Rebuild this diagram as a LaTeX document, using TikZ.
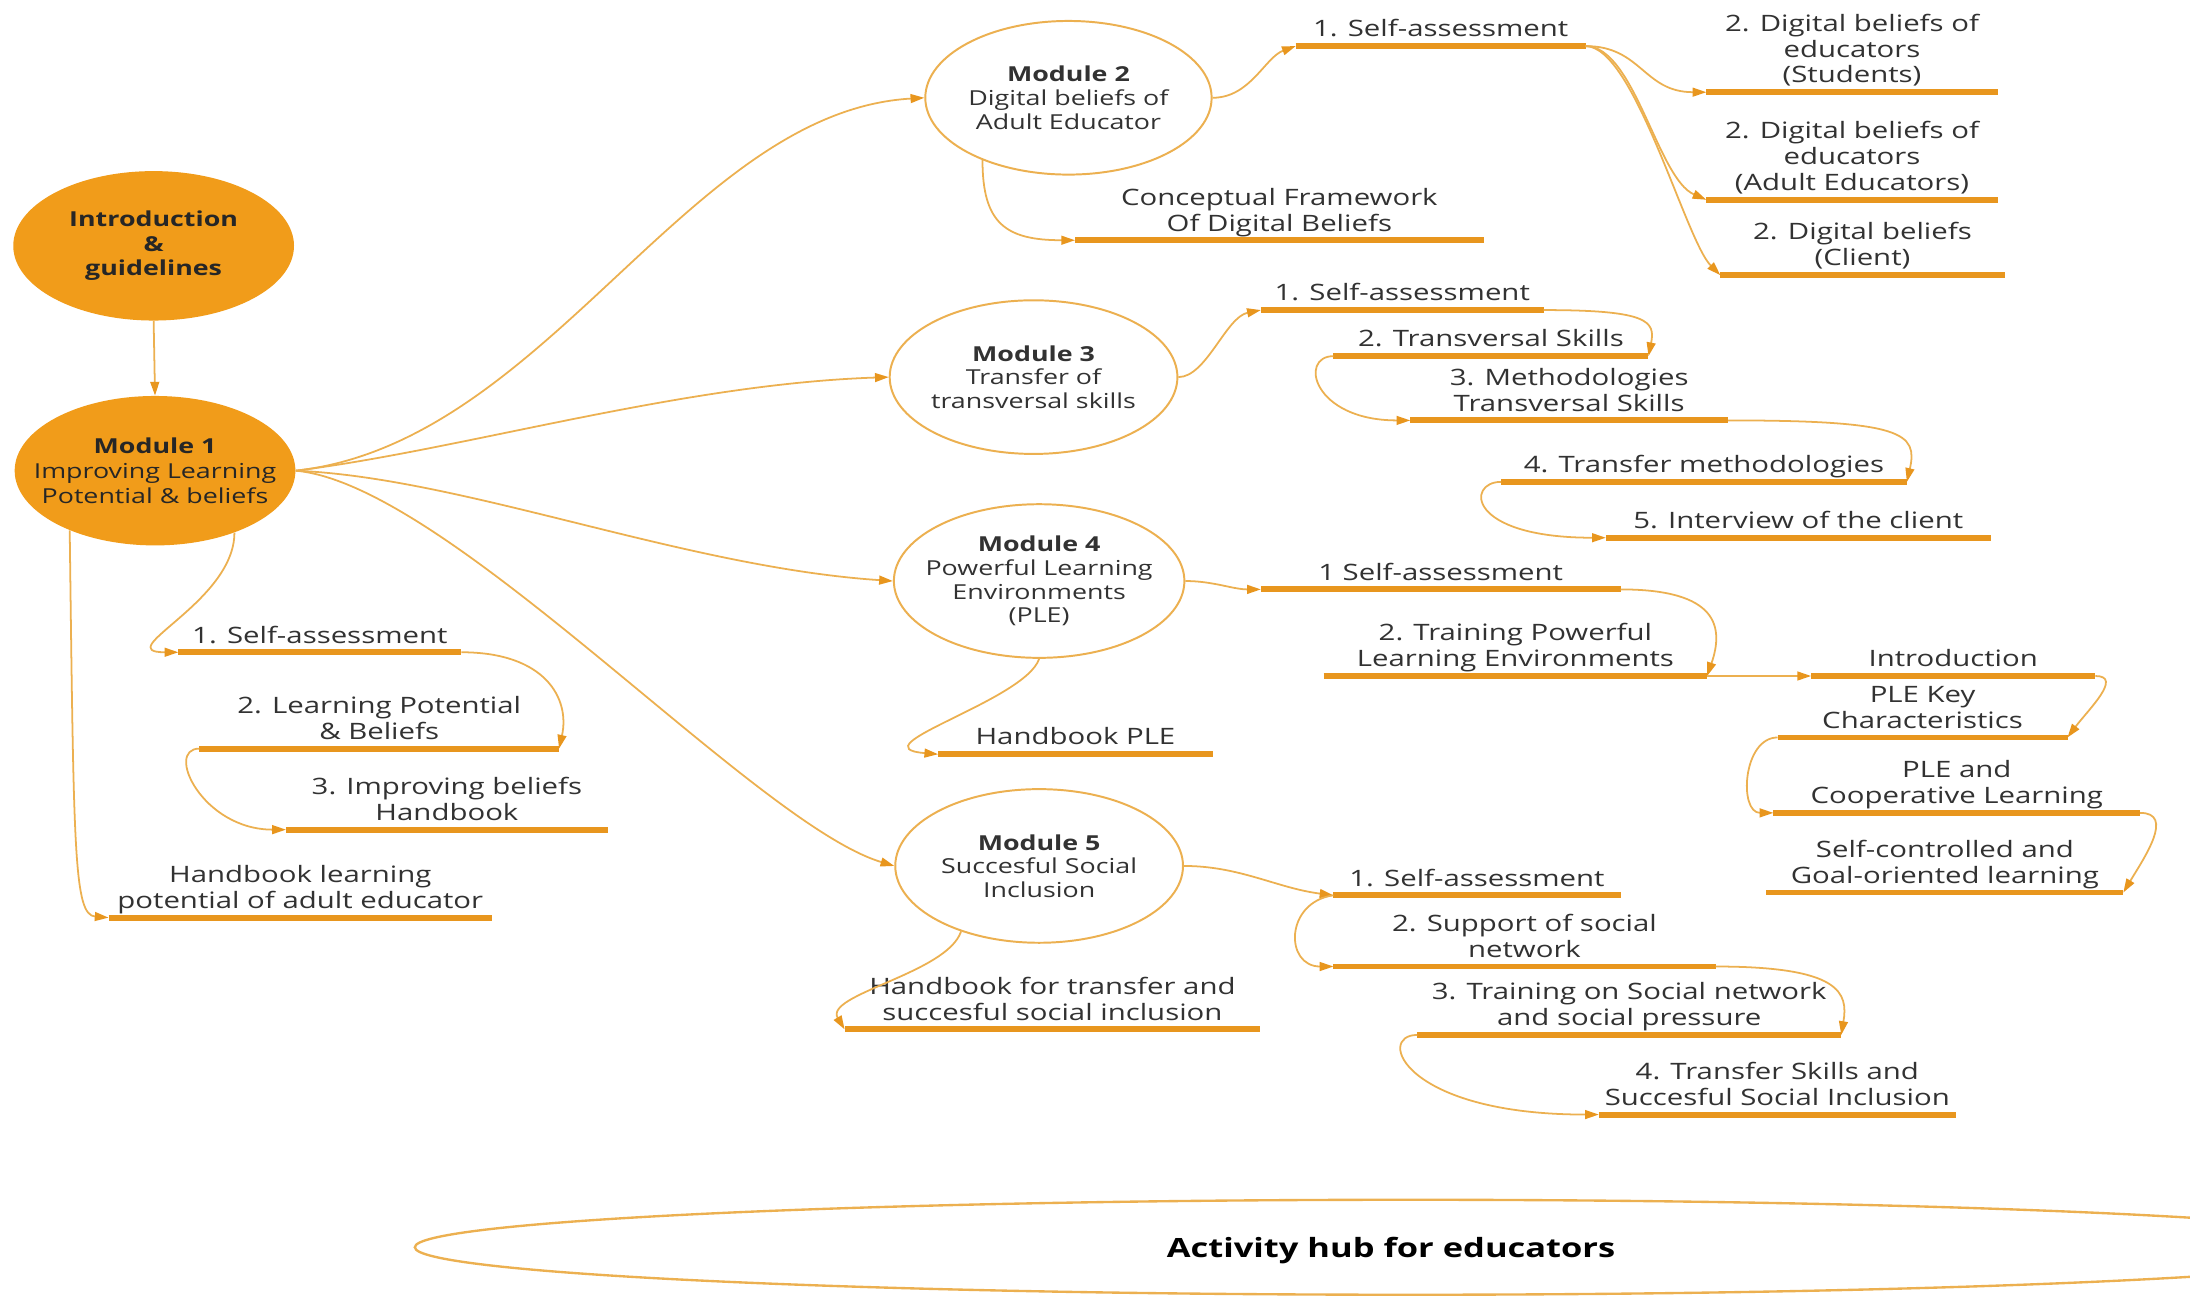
\documentclass[tikz,border=0pt]{standalone}
\usepackage{fontspec}
\setmainfont{Open Sans}[FakeStretch=1.3]
\usetikzlibrary{shapes.geometric,arrows.meta}
\definecolor{orF}{RGB}{241,156,26}
\definecolor{barC}{RGB}{232,150,30}
\definecolor{lnC}{RGB}{236,176,80}
\definecolor{txC}{RGB}{50,50,50}
\newcommand\lblfont{\fontsize{11.5}{13.2}\selectfont}
\newcommand\modfont{\fontsize{10.5}{12}\selectfont}
\begin{document}
\begin{tikzpicture}[x=0.025cm,y=-0.025cm,
  conn/.style={draw=lnC, line width=0.9pt, -{Triangle[length=7pt,width=4.5pt,color=barC]}},
  barline/.style={draw=barC, line width=3pt},
  item/.style={anchor=south, minimum width=#1*0.025cm, inner xsep=0pt, inner ysep=2pt, text depth=2.5pt, align=center, font=\lblfont, text=txC},
  ctext/.style={align=center, font=\modfont, text=txC, inner sep=0pt},
  ftext/.style={align=center, font=\fontsize{10.5}{12.6}\selectfont, text=black!85, inner sep=0pt},
  modnode/.style={ellipse, draw=lnC, line width=1pt, inner sep=0pt, minimum width=#1*0.025cm, minimum height=110*0.025cm},
  filled/.style={ellipse, fill=orF, inner sep=0pt, minimum width=201*0.025cm, minimum height=107*0.025cm}
]
\useasboundingbox (0,0) rectangle (1568,929);
\fill[white] (0,0) rectangle (1568,929);

% main nodes
\node[filled, label={[ftext]center:{\textbf{Introduction}\\\textbf{\&}\\\textbf{guidelines}}}] (intro) at (110,176) {};
\node[filled, label={[ftext]center:{\textbf{Module 1}\\Improving Learning\\Potential \& beliefs}}] (m1) at (111,337) {};
\node[modnode=205, label={[ctext]center:{\textbf{Module 2}\\Digital beliefs of\\Adult Educator}}] (m2) at (765,70) {};
\node[modnode=206, label={[ctext]center:{\textbf{Module 3}\\Transfer of\\transversal skills}}] (m3) at (740,270) {};
\node[modnode=208, label={[ctext]center:{\textbf{Module 4}\\Powerful Learning\\Environments\\(PLE)}}] (m4) at (744,416) {};
\node[modnode=206, label={[ctext]center:{\textbf{Module 5}\\Succesful Social\\Inclusion}}] (m5) at (744,620) {};

% items module 1
\node[item=202] (a1) at (229,467) {1. Self-assessment};
\node[item=257] (a2) at (271.5,536) {2. Learning Potential\\\& Beliefs};
\node[item=230] (a3) at (320,594) {3. Improving beliefs\\Handbook};
\node[item=274] (a4) at (215,657) {Handbook learning\\potential of adult educator};
% items module 2
\node[item=207] (b1) at (1031.5,33) {1. Self-assessment};
\node[item=208] (b2) at (1326,66) {2. Digital beliefs of\\educators\\(Students)};
\node[item=208] (b3) at (1326,143) {2. Digital beliefs of\\educators\\(Adult Educators)};
\node[item=203] (b4) at (1333.5,197) {2. Digital beliefs\\(Client)};
\node[item=292] (b5) at (916,172) {Conceptual Framework\\Of Digital Beliefs};
% items module 3
\node[item=202] (c1) at (1004,222) {1. Self-assessment};
\node[item=225] (c2) at (1067.5,255) {2. Transversal Skills};
\node[item=227] (c3) at (1123.5,301) {3. Methodologies\\Transversal Skills};
\node[item=290] (c4) at (1220,345) {4. Transfer methodologies};
\node[item=275] (c5) at (1287.5,385) {5. Interview of the client};
% items module 4
\node[item=257] (d1) at (1031.5,422) {1 Self-assessment};
\node[item=274] (d2) at (1085,484) {2. Training Powerful\\Learning Environments};
\node[item=203] (d3) at (1398.5,484) {Introduction};
\node[item=207] (d4) at (1376.5,528) {PLE Key\\Characteristics};
\node[item=262] (d5) at (1401,582) {PLE and\\Cooperative Learning};
\node[item=255] (d6) at (1392.5,639) {Self-controlled and\\Goal-oriented learning};
\node[item=196] (d7) at (770,540) {Handbook PLE};
% items module 5
\node[item=205] (e1) at (1057.5,641) {1. Self-assessment};
\node[item=273] (e2) at (1091.5,692) {2. Support of social\\network};
\node[item=303] (e3) at (1166.5,741) {3. Training on Social network\\and social pressure};
\node[item=255] (e4) at (1272.5,798) {4. Transfer Skills and\\Succesful Social Inclusion};
\node[item=297] (e5) at (753.5,737) {Handbook for transfer and\\succesful social inclusion};

% bars
\foreach \n in {a1,a2,a3,a4,b1,b2,b3,b4,b5,c1,c2,c3,c4,c5,d1,d2,d3,d4,d5,d6,d7,e1,e2,e3,e4,e5}
  \draw[barline] (\n.south west) -- (\n.south east);

% hub
\begin{scope}
\clip (0,0) rectangle (1568,929);
\node[ellipse, draw=lnC, line width=1.2pt, inner sep=0pt, minimum width=1426*0.025cm, minimum height=68*0.025cm] (hub) at (1010,893) {};
\end{scope}
\node[font=\bfseries\fontsize{13.5}{15}\selectfont, text=black] (hubtxt) at (996,895) {Activity hub for educators};

% connectors: main
\draw[conn] (intro.south) -- (m1.north);
\draw[conn] (m1.east) .. controls +(180,-20) and +(-170,10) .. (m2.west);
\draw[conn] (m1.east) .. controls +(120,-15) and +(-150,5) .. (m3.west);
\draw[conn] (m1.east) .. controls +(120,5) and +(-150,-10) .. (m4.west);
\draw[conn] (m1.east) .. controls +(110,10) and +(-100,-30) .. (m5.west);

% module 1 branch
\draw[conn] (m1.-38) .. controls +(0,50) and +(-50,0) .. (a1.south west);
\draw[conn] (a1.south east) .. controls +(60,0) and +(8,-36) .. (a2.south east);
\draw[conn] (a2.south west) .. controls +(-25,0) and +(-60,0) .. (a3.south west);
\draw[conn] (m1.-145) .. controls +(3,230) and +(-25,-2) .. (a4.south west);

% module 2 branch
\draw[conn] (m2.east) .. controls +(27,0) and +(-22,8) .. (b1.south west);
\draw[conn] (b1.south east) .. controls +(40,0) and +(-45,0) .. (b2.south west);
\draw[conn] (b1.south east) .. controls +(35,0) and +(-35,-15) .. (b3.south west);
\draw[conn] (b1.south east) .. controls +(35,0) and +(-25,-25) .. (b4.south west);
\draw[conn] (m2.-144) .. controls +(0,45) and +(-50,0) .. (b5.south west);

% module 3 branch
\draw[conn] (m3.east) .. controls +(20,0) and +(-25,5) .. (c1.south west);
\draw[conn] (c1.south east) .. controls +(75,0) and +(5,-25) .. (c2.south east);
\draw[conn] (c2.south west) .. controls +(-25,0) and +(-70,0) .. (c3.south west);
\draw[conn] (c3.south east) .. controls +(125,0) and +(8,-35) .. (c4.south east);
\draw[conn] (c4.south west) .. controls +(-25,0) and +(-100,0) .. (c5.south west);

% module 4 branch
\draw[conn] (m4.east) .. controls +(20,0) and +(-20,0) .. (d1.south west);
\draw[conn] (d1.south east) .. controls +(70,0) and +(12,-35) .. (d2.south east);
\draw[conn] (d2.south east) -- (d3.south west);
\draw[conn] (d3.south east) .. controls +(20,0) and +(15,-20) .. (d4.south east);
\draw[conn] (d4.south west) .. controls +(-25,0) and +(-25,0) .. (d5.south west);
\draw[conn] (d5.south east) .. controls +(25,0) and +(15,-25) .. (d6.south east);
\draw[conn] (m4.-90) .. controls +(-10,30) and +(-60,-5) .. (d7.south west);

% module 5 branch
\draw[conn] (m5.east) .. controls +(40,0) and +(-40,-5) .. (e1.south west);
\draw[conn] (e1.south west) .. controls +(-35,5) and +(-35,0) .. (e2.south west);
\draw[conn] (e2.south east) .. controls +(90,0) and +(5,-30) .. (e3.south east);
\draw[conn] (e3.south west) .. controls +(-30,0) and +(-140,0) .. (e4.south west);
\draw[conn] (m5.-140) .. controls +(-10,30) and +(-15,-25) .. (e5.south west);
\end{tikzpicture}
\end{document}
